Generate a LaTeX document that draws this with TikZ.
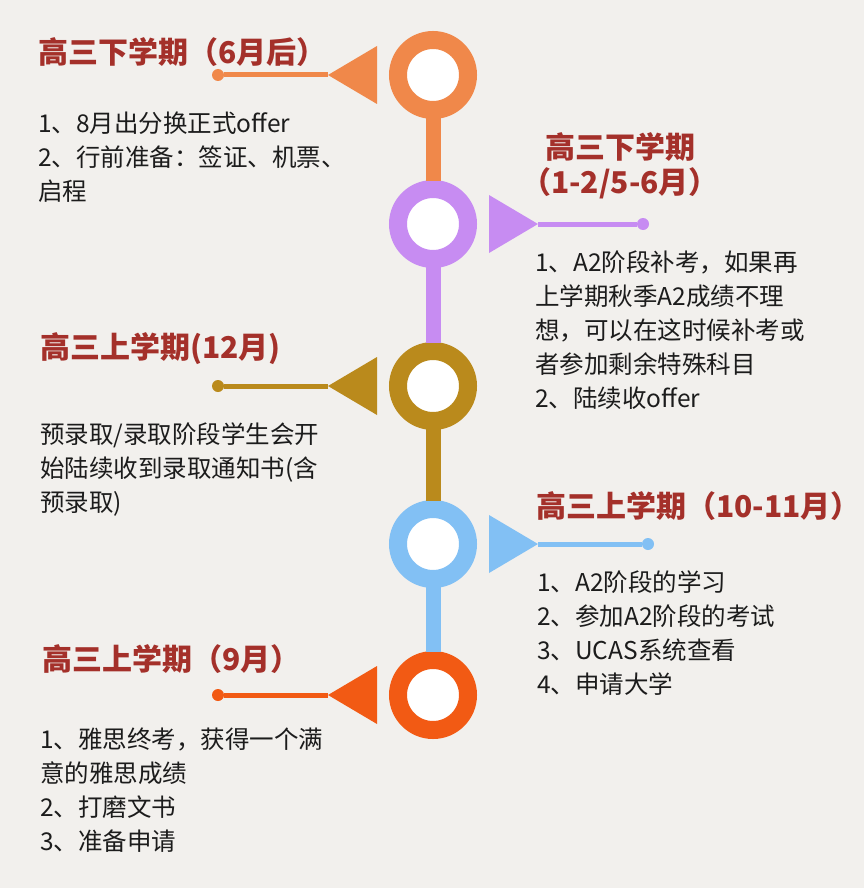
\documentclass[tikz,border=0pt]{standalone}
\usepackage{fontspec}
\newfontfamily\cjk{Noto Sans CJK SC}
\usetikzlibrary{shapes.geometric, positioning}
\definecolor{paper}{RGB}{242,240,237}
\definecolor{headred}{RGB}{164,48,42}
\definecolor{ink}{RGB}{28,28,28}
\definecolor{june}{RGB}{240,136,74}
\definecolor{spring}{RGB}{199,140,242}
\definecolor{december}{RGB}{186,138,28}
\definecolor{autumn}{RGB}{130,192,244}
\definecolor{september}{RGB}{242,90,20}

\begin{document}
\begin{tikzpicture}[x=1pt, y=-1pt]

% TikZ styles
\tikzset{
  ring/.style={circle, draw=#1, line width=18pt, fill=white, minimum size=70pt, inner sep=0pt},
  pointleft/.style={isosceles triangle, shape border rotate=180, isosceles triangle stretches, fill=#1, draw=none, minimum width=58pt, minimum height=49pt, inner sep=0pt, outer sep=0pt},
  pointright/.style={isosceles triangle, shape border rotate=0, isosceles triangle stretches, fill=#1, draw=none, minimum width=58pt, minimum height=49pt, inner sep=0pt, outer sep=0pt},
  dot/.style={circle, fill=#1, minimum size=12pt, inner sep=0pt, outer sep=0pt},
  lead/.style={line width=5pt},
  stem/.style={line width=15pt, shorten <=-1pt, shorten >=-1pt},
  heading/.style={anchor=north west, inner sep=0pt, text=headred, font=\cjk\bfseries\fontsize{30}{35}\selectfont, align=left},
  body/.style={anchor=north west, inner sep=0pt, text=ink, font=\cjk\fontsize{24.5}{34}\selectfont, align=left}
}

\path[use as bounding box, fill=paper] (0,0) rectangle (864,888);

%==========================
% Zeitleiste (Ringe)
%==========================
\node[ring=june]      (ringjune)   at (433,75)  {};
\node[ring=spring]    (ringspring) at (433,224) {};
\node[ring=december]  (ringdec)    at (433,386) {};
\node[ring=autumn]    (ringautumn) at (433,544) {};
\node[ring=september] (ringsept)   at (433,695) {};

\draw[stem, june]     (ringjune.south)   -- (ringspring.north);
\draw[stem, spring]   (ringspring.south) -- (ringdec.north);
\draw[stem, december] (ringdec.south)    -- (ringautumn.north);
\draw[stem, autumn]   (ringautumn.south) -- (ringsept.north);

% Zeiger links / rechts
\node[pointleft=june,      left=12pt of ringjune]    (tipjune)   {};
\node[pointright=spring,   right=12pt of ringspring] (tipspring) {};
\node[pointleft=december,  left=12pt of ringdec]     (tipdec)    {};
\node[pointright=autumn,   right=12pt of ringautumn] (tipautumn) {};
\node[pointleft=september, left=12pt of ringsept]    (tipsept)   {};

\node[dot=june,      left=104pt of tipjune.apex]    (dotjune)   {};
\node[dot=spring,    right=99pt of tipspring.apex]  (dotspring) {};
\node[dot=december,  left=104pt of tipdec.apex]     (dotdec)    {};
\node[dot=autumn,    right=104pt of tipautumn.apex] (dotautumn) {};
\node[dot=september, left=104pt of tipsept.apex]    (dotsept)   {};

\draw[lead, june]      (tipjune.apex)   -- (dotjune);
\draw[lead, spring]    (tipspring.apex) -- (dotspring);
\draw[lead, december]  (tipdec.apex)    -- (dotdec);
\draw[lead, autumn]    (tipautumn.apex) -- (dotautumn);
\draw[lead, september] (tipsept.apex)   -- (dotsept);

%==========================
% Texte
%==========================
\node[heading] (headjune) at (38,37) {高三下学期（6月后）};
\node[body] (bodyjune) at (38,112) {1、8月出分换正式offer\\2、行前准备：签证、机票、\\启程};

\node[heading, anchor=north, align=center] (headspring) at (620,132) {高三下学期\\（1-2/5-6月）};
\node[body] (bodyspring) at (535,251) {1、A2阶段补考，如果再\\上学期秋季A2成绩不理\\想，可以在这时候补考或\\者参加剩余特殊科目\\2、陆续收offer};

\node[heading] (headdec) at (40,332) {高三上学期(12月)};
\node[body] (bodydec) at (40,422) {预录取/录取阶段学生会开\\始陆续收到录取通知书(含\\预录取)};

\node[heading] (headautumn) at (536,491) {高三上学期（10-11月）};
\node[body] (bodyautumn) at (537,570) {1、A2阶段的学习\\2、参加A2阶段的考试\\3、UCAS系统查看\\4、申请大学};

\node[heading] (headsept) at (42,644) {高三上学期（9月）};
\node[body] (bodysept) at (40,728) {1、雅思终考，获得一个满\\意的雅思成绩\\2、打磨文书\\3、准备申请};

\end{tikzpicture}
\end{document}
